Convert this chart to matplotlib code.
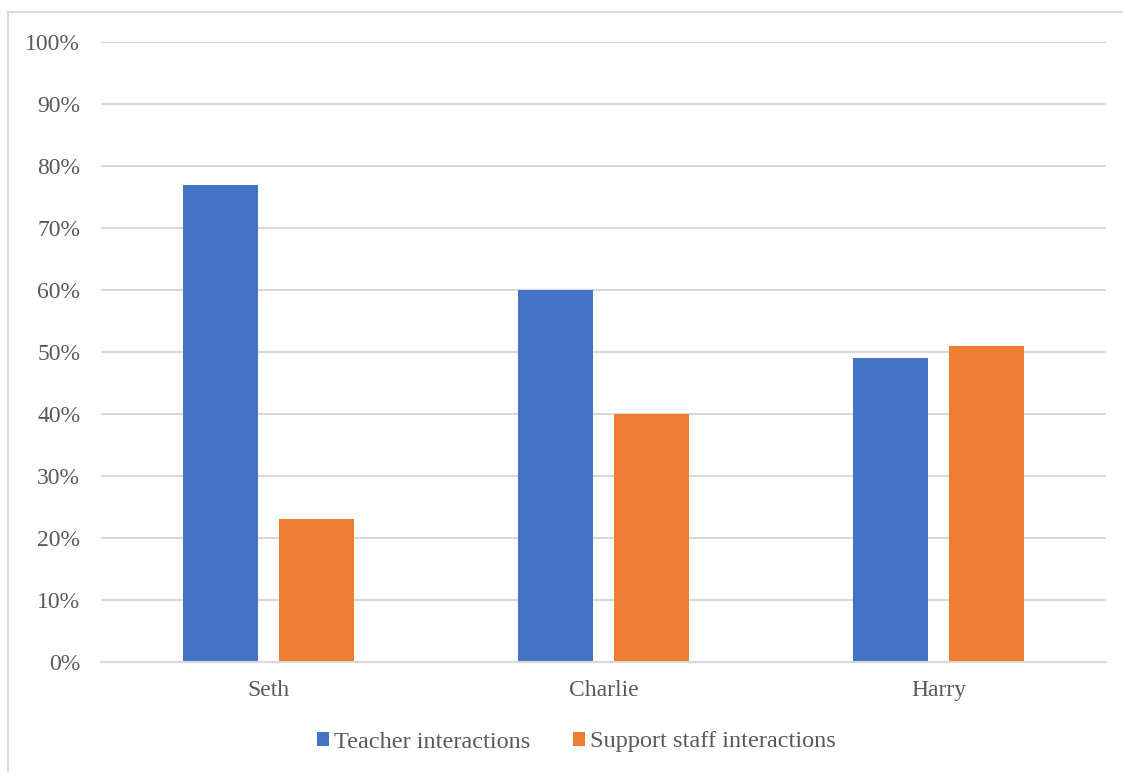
import numpy as np
import matplotlib.pyplot as plt
from matplotlib.patches import Rectangle
from matplotlib.ticker import PercentFormatter

students = ["Seth", "Charlie", "Harry"]
teacher = [77, 60, 49]
support = [23, 40, 51]

blue = "#4472c4"
orange = "#ed7d31"
grey_text = "#595959"
grid_col = "#d9d9d9"

plt.rcParams["font.family"] = ["Liberation Serif", "DejaVu Serif"]

W, H = 1123, 772
fig = plt.figure(figsize=(W / 100, H / 100), dpi=100)
ax = fig.add_axes([101 / W, 1 - 662 / H, (1106 - 101) / W, (662 - 42) / H])

# outer chart border
fig.patches.append(Rectangle((8 / W, -0.05), 1.2, 1.05 - 12 / H, transform=fig.transFigure,
                             fill=False, edgecolor=grid_col, linewidth=1.5))

x = np.arange(len(students))
w = 0.224
off = 0.142
ax.bar(x - off, teacher, w, color=blue, label="Teacher interactions", zorder=3)
ax.bar(x + off, support, w, color=orange, label="Support staff interactions", zorder=3)

ax.set_xlim(-0.5, 2.5)
ax.set_ylim(0, 100)
ax.set_yticks(range(0, 101, 10))
ax.yaxis.set_major_formatter(PercentFormatter(decimals=0))
ax.set_xticks(x)
ax.set_xticklabels(students)
ax.grid(axis="y", color=grid_col, linewidth=1.5, zorder=0)
for s in ["top", "right", "left"]:
    ax.spines[s].set_visible(False)
ax.spines["bottom"].set_color(grid_col)
ax.spines["bottom"].set_linewidth(1.5)
ax.spines["bottom"].set_zorder(4)
ax.tick_params(axis="both", length=0, labelsize=17, labelcolor=grey_text)
ax.tick_params(axis="y", pad=15)
ax.tick_params(axis="x", pad=13)

fig.legend(loc="center", bbox_to_anchor=(576.5 / W, 1 - 742 / H), ncol=2, frameon=False,
           fontsize=17.5, labelcolor=grey_text, handlelength=0.5, handleheight=0.5,
           handletextpad=0.2, columnspacing=1.75)

fig.savefig("out.png", dpi=100)
